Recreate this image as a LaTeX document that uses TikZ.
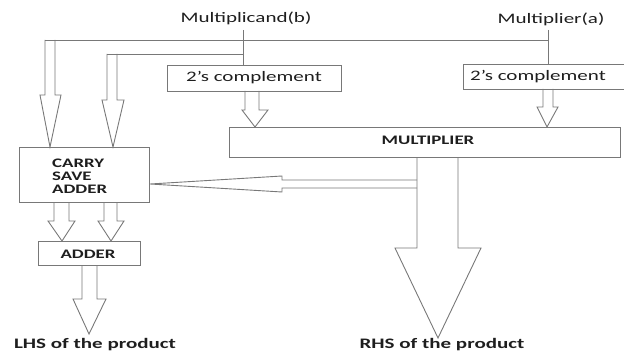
\documentclass[tikz,border=0pt]{standalone}
\usepackage{fontspec}
\setmainfont{Carlito}[FakeStretch=1.45]
\definecolor{lc}{RGB}{120,120,120}
\definecolor{tc}{RGB}{30,30,30}
\tikzset{
  boxed/.style={draw=lc, line width=0.9pt, rectangle, inner sep=0pt},
  wire/.style={draw=lc, line width=0.9pt},
  blk/.style={draw=lc, line width=0.9pt, line join=miter},
  lab/.style={text=tc, inner sep=0pt, font=\fontsize{14.5}{17}\selectfont},
  blab/.style={text=tc, inner sep=0pt, font=\fontsize{13}{13}\selectfont\bfseries},
  biglab/.style={text=tc, inner sep=0pt, font=\fontsize{14.5}{17}\selectfont\bfseries}
}
% vertical block arrow: xl xr hl hr ytop yhead tipx tipy
\newcommand\varr[8]{\draw[blk] (#1,#5) -- (#1,#6) -- (#3,#6) -- (#7,#8) -- (#4,#6) -- (#2,#6) -- (#2,#5);}
\begin{document}
\begin{tikzpicture}[x=1pt,y=-1pt]
\useasboundingbox (0,0) rectangle (624,353);
\clip (0,0) rectangle (624,353);
% labels
\node[lab] (mb) at (246,18) {Multiplicand(b)};
\node[lab] (ma) at (551,19) {Multiplier(a)};
\node[biglab] (lhs) at (95,345) {LHS of the product};
\node[biglab] (rhs) at (442,345) {RHS of the product};
% boxes
\node[boxed, minimum width=174pt, minimum height=26pt] (c2l) at (254,78) {};
\node[lab] (c2lt) at (254,78) {2's complement};
\node[boxed, minimum width=167pt, minimum height=25pt] (c2r) at (546.5,76.5) {};
\node[lab] (c2rt) at (538,77) {2's complement};
\node[boxed, minimum width=391pt, minimum height=30pt] (mul) at (424.5,142) {};
\node[blab] (mult) at (428,140) {MULTIPLIER};
\node[boxed, minimum width=130pt, minimum height=55pt] (csa) at (84,174.5) {};
\node[blab, align=left, anchor=west] (csat) at (52,176) {CARRY\\SAVE\\ADDER};
\node[boxed, minimum width=102pt, minimum height=24pt] (add) at (89,253) {};
\node[blab] (addt) at (88,254) {ADDER};
% wires
\draw[wire] (243,30) -- (243,65);
\draw[wire] (548,30) -- (548,64);
\draw[wire] (45,40) -- (548,40);
\draw[wire] (107,54) -- (243,54);
% block arrows
\varr{45}{55}{40}{61}{40}{95}{50}{147}
\varr{107}{117}{102}{124}{54}{100}{113}{147}
\varr{245}{259}{242}{268}{91}{110}{255}{127}
\varr{543}{553}{537}{558}{89}{107}{547}{127}
\varr{417}{458}{395}{481}{157}{248}{438}{338}
\varr{54}{69}{48}{75}{202}{221}{62}{241}
\varr{104}{117}{98}{124}{202}{221}{111}{241}
\varr{82}{97}{73}{106}{265}{299}{89}{334}
\draw[blk] (417,180) -- (282,180) -- (282,176) -- (150,184) -- (282,192) -- (282,188) -- (417,188);
\end{tikzpicture}
\end{document}
